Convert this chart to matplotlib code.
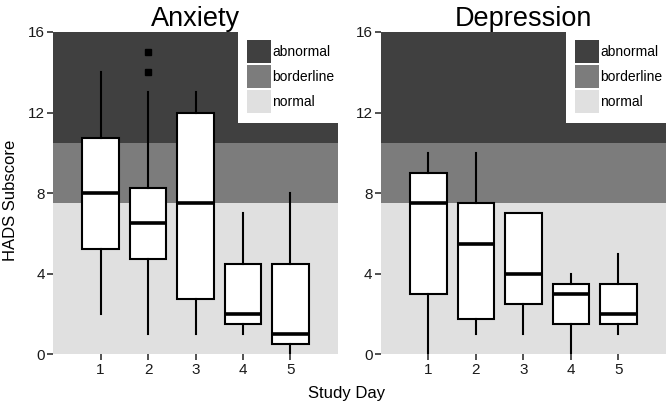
import matplotlib
matplotlib.use("Agg")
import matplotlib.pyplot as plt
from matplotlib.patches import Patch, Rectangle

plt.rcParams['font.family'] = ['Liberation Sans', 'DejaVu Sans']

days = [1, 2, 3, 4, 5]

# anxiety box stats per day
anx_low = [2, 1, 1, 1, 0]
anx_q1 = [5.25, 4.75, 2.75, 1.5, 0.5]
anx_med = [8, 6.5, 7.5, 2, 1]
anx_q3 = [10.75, 8.25, 12, 4.5, 4.5]
anx_high = [14, 13, 13, 7, 8]
anx_out = [[], [14, 15], [], [], []]

# depression box stats per day
dep_low = [0, 1, 1, 0, 1]
dep_q1 = [3, 1.75, 2.5, 1.5, 1.5]
dep_med = [7.5, 5.5, 4, 3, 2]
dep_q3 = [9, 7.5, 7, 3.5, 3.5]
dep_high = [10, 10, 7, 4, 5]
dep_out = [[], [], [], [], []]

band_edges = [0, 7.5, 10.5, 16]
band_names = ['normal', 'borderline', 'abnormal']
band_colors = ['#e0e0e0', '#7c7c7c', '#404040']


def make_stats(low, q1, med, q3, high, out):
    stats = []
    for i in range(len(low)):
        stats.append(dict(whislo=low[i], q1=q1[i], med=med[i], q3=q3[i],
                          whishi=high[i], fliers=out[i]))
    return stats


fig = plt.figure(figsize=(6.66, 4.08), dpi=100)
ax1 = fig.add_axes([0.0796, 0.1316, 0.4279, 0.79])
ax2 = fig.add_axes([0.572, 0.1316, 0.428, 0.79])

panels = [
    (ax1, 'Anxiety', make_stats(anx_low, anx_q1, anx_med, anx_q3, anx_high, anx_out)),
    (ax2, 'Depression', make_stats(dep_low, dep_q1, dep_med, dep_q3, dep_high, dep_out)),
]

for ax, title, stats in panels:
    for i in range(3):
        ax.axhspan(band_edges[i], band_edges[i + 1], color=band_colors[i], lw=0, zorder=0)

    ax.bxp(stats, positions=days, widths=0.76, patch_artist=True, showcaps=False,
           boxprops=dict(facecolor='white', edgecolor='black', linewidth=1.5),
           medianprops=dict(color='black', linewidth=2.6),
           whiskerprops=dict(color='black', linewidth=1.5),
           flierprops=dict(marker='s', markerfacecolor='black', markeredgecolor='black',
                           markersize=4),
           zorder=3)

    ax.set_xlim(0, 6)
    ax.set_ylim(0, 16)
    ax.set_xticks(days)
    ax.set_xticklabels([str(d) for d in days])
    ax.set_yticks([0, 4, 8, 12, 16])
    for s in ax.spines.values():
        s.set_visible(False)
    ax.tick_params(length=4, width=1.2, color='#333333', labelsize=11,
                   labelcolor='#1a1a1a', pad=2)
    ax.set_title(title, fontsize=19.5, pad=4)

    # legend sits on a white patch in the top right corner
    ax.add_patch(Rectangle((0.648, 0.7186), 0.352, 0.2814, transform=ax.transAxes,
                           facecolor='white', edgecolor='none', zorder=4))
    handles = [Patch(facecolor=band_colors[i], edgecolor='none') for i in [2, 1, 0]]
    labels = [band_names[i] for i in [2, 1, 0]]
    leg = ax.legend(handles, labels, loc='upper left', bbox_to_anchor=(0.681, 0.975),
                    frameon=False, fontsize=10, borderpad=0, borderaxespad=0,
                    handlelength=1.73, handleheight=2.16, labelspacing=0.15,
                    handletextpad=0.1)
    leg.set_zorder(5)

fig.text(0.0165, 0.51, 'HADS Subscore', rotation=90, ha='center', va='center', fontsize=12)
fig.text(0.52, 0.035, 'Study Day', ha='center', va='center', fontsize=12)

fig.savefig('out.png', dpi=100)
